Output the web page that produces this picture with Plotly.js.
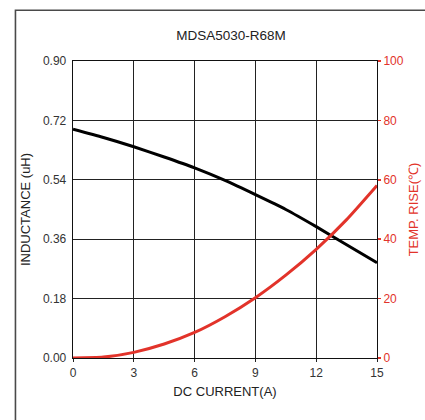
<!DOCTYPE html>
<html>
<head>
<meta charset="utf-8">
<script src="https://cdn.plot.ly/plotly-3.0.1.min.js"></script>
<style>
html,body{margin:0;padding:0;background:#fff;}
#chart{width:425px;height:420px;}
</style>
</head>
<body>
<div id="chart"></div>
<script>
var chartTitle = "MDSA5030-R68M";
var current = [0, 1.5, 3, 4.5, 6, 7.5, 9, 10.5, 12, 13.5, 15];
var inductance = [0.693, 0.668, 0.640, 0.609, 0.576, 0.538, 0.495, 0.450, 0.398, 0.343, 0.289];
var tempRise = [0, 0.3, 1.9, 4.7, 8.6, 13.9, 20.3, 27.9, 36.6, 46.6, 58.1];
var xTicks = [0, 3, 6, 9, 12, 15];
var yTicks = [0, 0.18, 0.36, 0.54, 0.72, 0.90];
var y2Ticks = [0, 20, 40, 60, 80, 100];

var RED = '#e2332a';
var FONT = 'Liberation Sans, Arial, sans-serif';

var traces = [
  {x: current, y: inductance, type: 'scatter', mode: 'lines',
   line: {color: '#000', width: 3, shape: 'spline', smoothing: 0.6},
   yaxis: 'y', hoverinfo: 'skip'},
  {x: current, y: tempRise, type: 'scatter', mode: 'lines',
   line: {color: RED, width: 3, shape: 'spline', smoothing: 0.6},
   yaxis: 'y2', hoverinfo: 'skip'}
];

var layout = {
  width: 425, height: 420,
  margin: {l: 73, r: 48.3, t: 60.7, b: 62.3, pad: 0},
  paper_bgcolor: '#fff', plot_bgcolor: '#fff',
  showlegend: false,
  font: {family: FONT, size: 12, color: '#333'},
  title: {text: chartTitle, font: {family: FONT, size: 13.5, color: '#222'},
          x: 0.52, xanchor: 'center', y: 0.917, yanchor: 'middle', xref: 'paper', yref: 'container'},
  xaxis: {range: [0, 15], tickvals: xTicks, ticktext: xTicks.map(String),
          showgrid: true, gridcolor: '#222', gridwidth: 1,
          showline: true, linecolor: '#111', linewidth: 1.3, mirror: true,
          ticks: 'outside', ticklen: 3, tickcolor: '#222', zeroline: false,
          tickfont: {family: FONT, size: 12, color: '#333'},
          title: {text: 'DC CURRENT(A)', font: {family: FONT, size: 13, color: '#222'}, standoff: 8}},
  yaxis: {range: [0, 0.9], tickvals: yTicks, ticktext: yTicks.map(function(v){return v.toFixed(2);}),
          showgrid: true, gridcolor: '#222', gridwidth: 1,
          showline: true, linecolor: '#111', linewidth: 1.3, mirror: true,
          ticks: 'outside', ticklen: 3, tickcolor: '#fff', zeroline: false,
          tickfont: {family: FONT, size: 12, color: '#333'},
          title: {text: 'INDUCTANCE (uH)', font: {family: FONT, size: 13, color: '#222'}, standoff: 9}},
  yaxis2: {range: [0, 100], tickvals: y2Ticks, ticktext: y2Ticks.map(String),
           overlaying: 'y', side: 'right', showgrid: false, zeroline: false,
           showline: false, ticks: 'outside', ticklen: 3, tickcolor: RED, tickwidth: 1.5,
           tickfont: {family: FONT, size: 12, color: RED},
           title: {text: 'TEMP. RISE(℃)', font: {family: FONT, size: 13, color: RED}, standoff: 6}},
  shapes: [
    {type: 'rect', xref: 'paper', yref: 'paper', x0: -0.1893, x1: 1.6, y0: -0.5, y1: 1.1707,
     line: {color: '#4a4a4a', width: 1.6}, fillcolor: 'rgba(0,0,0,0)', layer: 'below'}
  ]
};

Plotly.newPlot('chart', traces, layout, {staticPlot: true, displayModeBar: false});
</script>
</body>
</html>
